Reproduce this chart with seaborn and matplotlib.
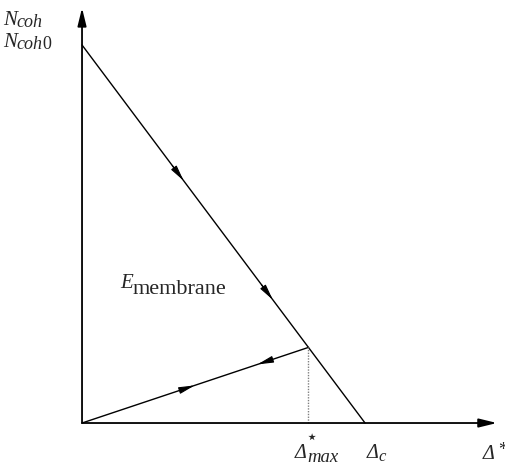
import matplotlib
matplotlib.use("Agg")
import matplotlib.pyplot as plt
import seaborn as sns
import pandas as pd

sns.set_theme(style="white")
plt.rcParams["font.family"] = ["Liberation Serif", "DejaVu Serif", "DejaVu Sans"]

# Bilinear cohesive law: loading branch and unloading branch
loading_delta = [0.0, 1.0]
loading_n = [1.0, 0.0]
unloading_delta = [0.8, 0.0]
unloading_n = [0.2, 0.0]
delta_max = 0.8
n_at_max = 0.2

W, H = 506, 470
fig = plt.figure(figsize=(W / 100, H / 100), dpi=100)
ax = fig.add_axes([0, 0, 1, 1])
ax.set_xlim(-0.2898, 1.498)
ax.set_ylim(-0.1243, 1.119)
ax.axis("off")

load_df = pd.DataFrame({"delta": loading_delta, "n": loading_n})
unload_df = pd.DataFrame({"delta": unloading_delta, "n": unloading_n})
sns.lineplot(data=load_df, x="delta", y="n", color="black", lw=1.0, sort=False, ax=ax)
sns.lineplot(data=unload_df, x="delta", y="n", color="black", lw=1.0, sort=False, ax=ax)

# dotted drop line at the maximum opening
ax.plot([delta_max, delta_max], [0, n_at_max], color="0.5", lw=1.0, ls=(0, (1, 1)))

# coordinate axes with arrow heads
axis_style = dict(arrowstyle="-|>,head_length=0.9,head_width=0.22", color="black",
                  lw=1.3, shrinkA=0, shrinkB=0)
ax.annotate("", xy=(1.466, 0), xytext=(0, 0), arrowprops=axis_style)
ax.annotate("", xy=(0, 1.098), xytext=(0, 0), arrowprops=axis_style)


def mid_arrow(x0, y0, x1, y1, t):
    px = x0 + (x1 - x0) * t
    py = y0 + (y1 - y0) * t
    dx = (x1 - x0) * 0.02
    dy = (y1 - y0) * 0.02
    ax.annotate("", xy=(px + dx, py + dy), xytext=(px - dx, py - dy),
                arrowprops=dict(arrowstyle="-|>,head_length=0.8,head_width=0.17",
                                color="black", lw=0.8, shrinkA=0, shrinkB=0))


# direction markers along the loading and unloading paths
mid_arrow(0, 1, 1, 0, 0.339)
mid_arrow(0, 1, 1, 0, 0.654)
mid_arrow(0, 0, 0.8, 0.2, 0.382 / 0.8)
mid_arrow(0.8, 0.2, 0, 0, 1 - 0.636 / 0.8)

renderer = fig.canvas.get_renderer()


def label(x, y, parts):
    """Write a run of text pieces left to right; each piece is
    (text, size, style, baseline shift in px)."""
    cur = x
    for text, size, style, dy in parts:
        t = fig.text(cur / W, 1 - (y + dy) / H, text, fontsize=size,
                     fontstyle=style, va="baseline", ha="left")
        cur = t.get_window_extent(renderer).x1


# axis labels
label(3, 25, [("N", 15, "italic", 0), ("coh", 13, "italic", 2)])
label(3, 47, [("N", 15, "italic", 0), ("coh", 13, "italic", 2), ("0", 13, "normal", 2)])
label(295, 458, [("\u0394", 14.5, "italic", 0), ("max", 13.5, "italic", 4)])
fig.text(312 / W, 1 - 437 / H, "\u22c6", fontsize=14, va="center", ha="center",
         family=["DejaVu Sans"])
label(367, 458, [("\u0394", 14.5, "italic", 0), ("c", 12, "italic", 3)])
label(483, 459, [("\u0394", 14.5, "italic", 0)])
fig.text(498 / W, 1 - 442 / H, "*", fontsize=13, va="top", ha="left")

label(120, 288, [("E", 15, "italic", 0), ("membrane", 16, "normal", 6)])

fig.savefig("out.png", dpi=100)
